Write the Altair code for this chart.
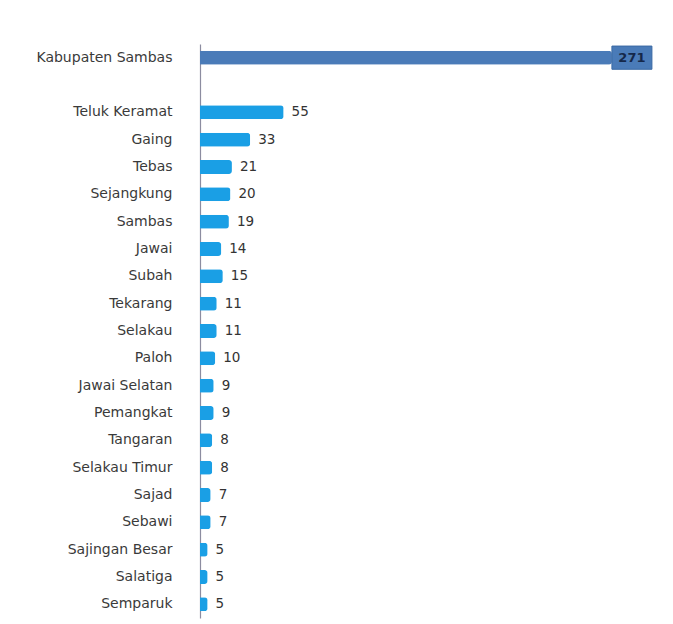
import altair as alt
import pandas as pd

categories = ["Kabupaten Sambas", "Teluk Keramat", "Gaing", "Tebas", "Sejangkung",
              "Sambas", "Jawai", "Subah", "Tekarang", "Selakau", "Paloh",
              "Jawai Selatan", "Pemangkat", "Tangaran", "Selakau Timur", "Sajad",
              "Sebawi", "Sajingan Besar", "Salatiga", "Semparuk"]
values = [271, 55, 33, 21, 20, 19, 14, 15, 11, 11, 10, 9, 9, 8, 8, 7, 7, 5, 5, 5]

# axis order with a blank row after the regency total
axis_order = [categories[0], " "] + categories[1:]

df = pd.DataFrame({"cat": categories, "val": values})
df["total"] = df["cat"] == "Kabupaten Sambas"

y_enc = alt.Y("cat:N", sort=axis_order, scale=alt.Scale(domain=axis_order, paddingInner=0, paddingOuter=0),
              axis=alt.Axis(title=None, ticks=False, labelPadding=28, labelFont="DejaVu Sans",
                            labelFontSize=14, labelColor="#3a3a3a", domainColor="#8c8ca0",
                            domainWidth=1.2, labelLimit=300))
x_enc = alt.X("val:Q", scale=alt.Scale(domain=[0, 300]), axis=None)

base = alt.Chart(df)

bars = base.mark_bar(cornerRadiusTopRight=3, cornerRadiusBottomRight=3).encode(
    y=y_enc, x=x_enc,
    color=alt.condition("datum.total", alt.value("#4a7bb8"), alt.value("#1a9fe5")),
    size=alt.condition("datum.total", alt.value(17), alt.value(14)),
)

total = base.transform_filter("datum.total")

box = total.mark_point(
    shape="M-1,-0.58L1,-0.58L1,0.58L-1,0.58Z", filled=True, opacity=1, xOffset=20, size=1600,
    color="#4a7bb8", stroke="#3a69a4", strokeWidth=1).encode(y=y_enc, x=x_enc)

total_label = total.mark_text(align="center", dx=20, font="DejaVu Sans", fontSize=13,
                              fontWeight="bold", color="#15284a").encode(
    y=y_enc, x=x_enc, text="val:Q")

labels = base.transform_filter("!datum.total").mark_text(
    align="left", dx=8, font="DejaVu Sans", fontSize=13.5, color="#333333").encode(
    y=y_enc, x=x_enc, text="val:Q")

chart = alt.layer(bars, box, total_label, labels).properties(
    width=456, height=574,
    background="white",
    autosize=alt.AutoSizeParams(type="none"),
    padding={"left": 200, "top": 44, "right": 10, "bottom": 6},
).configure_view(stroke=None)

chart.save("out.html", embed_options={"renderer": "svg", "actions": False})
